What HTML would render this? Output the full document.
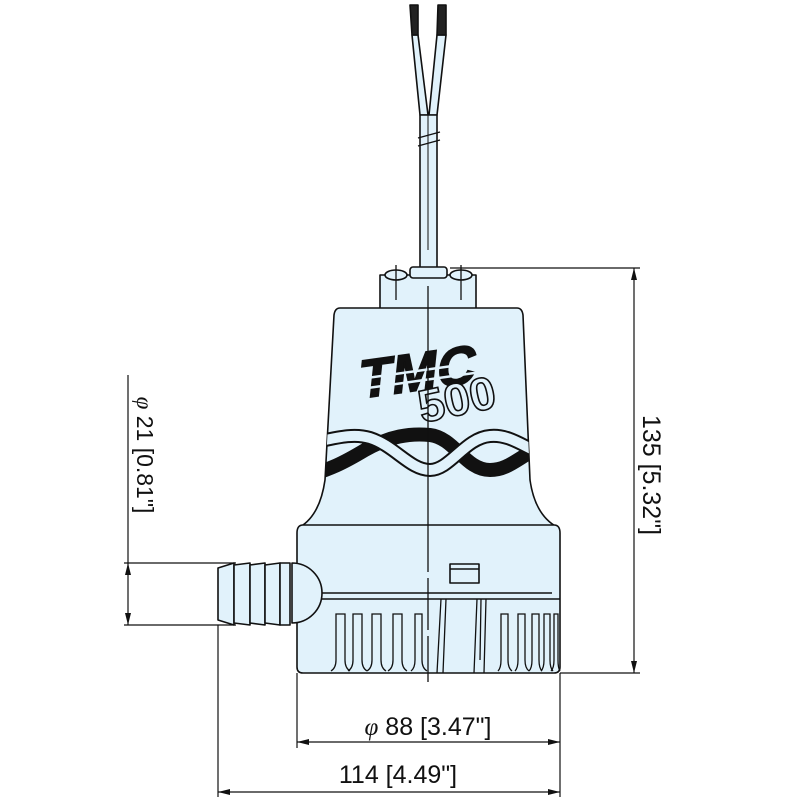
<!DOCTYPE html>
<html><head><meta charset="utf-8"><style>
html,body{margin:0;padding:0;background:#fff;}
svg{display:block;}
text{font-family:"Liberation Sans",Arial,sans-serif;fill:#111;}
</style></head><body>
<svg width="800" height="800" viewBox="0 0 800 800" xmlns="http://www.w3.org/2000/svg">
<defs>
<marker id="a" viewBox="0 0 12 6" refX="12" refY="3" markerWidth="12" markerHeight="6" orient="auto-start-reverse" markerUnits="userSpaceOnUse"><path d="M0,0 L12,3 L0,6 Z" fill="#111"/></marker>
<clipPath id="bc"><path d="M340,308 L517,308 Q522,308 523,315 L530,480 Q535,515 557,527 L300,527 Q320,515 325,480 L334,315 Q335,308 340,308 Z"/></clipPath>
</defs>
<g stroke="#111" stroke-width="1.6" fill="#e1f2fb" stroke-linejoin="round">
<path d="M412,35 L420,115 L428,115 L418,35 Z"/>
<path d="M437,35 L429,115 L437,115 L446,35 Z"/>
<path d="M410,5 L418,5 L418,35 L412,35 Z" fill="#222"/>
<path d="M438,5 L446,5 L446,35 L437,35 Z" fill="#222"/>
<rect x="420" y="115" width="17" height="153"/>
<path d="M418,138 L440,132 M418,146 L440,140" stroke-width="1.4"/>
<line x1="428" y1="115" x2="428" y2="250" stroke-width="1"/>
<rect x="380" y="275" width="96" height="34"/>
<rect x="410" y="267" width="37" height="11" rx="3"/>
<ellipse cx="396" cy="275" rx="11" ry="5"/>
<ellipse cx="461" cy="275" rx="11" ry="5"/>
<path d="M340,308 L517,308 Q522,308 523,315 L530,480 Q535,515 557,527 L300,527 Q320,515 325,480 L334,315 Q335,308 340,308 Z"/>
<path d="M303,525 L554,525 Q560,525 560,533 L560,667 Q560,673 554,673 L303,673 Q297,673 297,667 L297,533 Q297,525 303,525 Z"/>
<line x1="318" y1="593" x2="552" y2="593"/>
<line x1="318" y1="599" x2="560" y2="599"/>
<rect x="450" y="564" width="29" height="19" fill="none"/>
<line x1="450" y1="569" x2="479" y2="569"/>
<path d="M292,563 A30,30 0 0 1 292,623 Z"/>
<path d="M218,568 L234,563 L234,625 L218,620 Z"/>
<path d="M234,565 L250,563 L250,625 L234,623 Z"/>
<path d="M250,565 L265,563 L265,625 L250,623 Z"/>
<path d="M265,565 L280,563 L280,625 L265,623 Z"/>
<rect x="280" y="563" width="10" height="62"/>
</g>
<g stroke="#111" stroke-width="1.3" fill="none">
<path d="M331,671 Q336,668 336,660 L336,614 L345,614 L345,660 Q345,668 350,671"/>
<path d="M348,671 Q353,668 353,660 L353,614 L362,614 L362,660 Q362,668 367,671"/>
<path d="M367,671 Q372,668 372,660 L372,614 L381,614 L381,660 Q381,668 386,671"/>
<path d="M388,671 Q393,668 393,660 L393,614 L402,614 L402,660 Q402,668 407,671"/>
<path d="M411,671 Q415,668 415,660 L415,614 L422,614 L422,660 Q422,668 427,671"/>
<path d="M437,673 L441,599 M446,599 L443,673"/>
<path d="M474,673 L477,599 M486,599 L484,673 M481,599 L480,660"/>
<path d="M498,671 Q501,668 501,660 L501,614 L508,614 L508,660 Q508,668 512,671"/>
<path d="M515,671 Q518,668 518,660 L518,614 L525,614 L525,660 Q525,668 529,671"/>
<path d="M529,671 Q532,668 532,660 L532,614 L539,614 L539,660 Q539,668 542,671"/>
<path d="M541,671 Q544,668 544,660 L544,614 L550,614 L550,660 Q550,668 553,671"/>
<path d="M551,671 Q554,668 554,660 L554,614 L558,614 L558,660 Q558,668 560,671"/>
</g>
<g transform="translate(350,400) rotate(-8) skewX(-14)">
<text x="8" y="0" font-size="54" font-weight="bold" textLength="118" lengthAdjust="spacingAndGlyphs" style="fill:#111;stroke:#111;stroke-width:1.5">TMC</text>
</g>
<g stroke="#e1f2fb" stroke-width="2.5" transform="rotate(-8 410 380)"><line x1="345" y1="372" x2="480" y2="372"/><line x1="345" y1="382" x2="480" y2="382"/></g>
<text x="0" y="0" font-size="46" font-weight="bold" font-family="Liberation Serif" transform="translate(422,423) rotate(-12)" style="fill:#e1f2fb;stroke:#111;stroke-width:1.6" textLength="78" lengthAdjust="spacingAndGlyphs">500</text>
<g clip-path="url(#bc)" fill="none">
<path d="M300,478 C330,470 345,462 365,450 C390,436 410,433 430,435 C455,438 465,470 490,470 C510,470 520,455 545,445" stroke="#111" stroke-width="14"/>
<path d="M300,445 C330,440 350,432 370,438 C395,446 410,470 430,470 C450,470 465,438 490,436 C510,434 525,448 545,455" stroke="#111" stroke-width="14"/>
<path d="M300,445 C330,440 350,432 370,438 C395,446 410,470 430,470 C450,470 465,438 490,436 C510,434 525,448 545,455" stroke="#e1f2fb" stroke-width="10"/>
</g>
<g stroke="#111" stroke-width="1.3">
<line x1="428" y1="286" x2="428" y2="572"/>
<line x1="428" y1="578" x2="428" y2="630"/>
<line x1="428" y1="636" x2="428" y2="682"/>
<line x1="396" y1="265" x2="396" y2="300"/><line x1="461" y1="265" x2="461" y2="300"/>
</g>
<g stroke="#111" stroke-width="1.2" fill="none">
<line x1="450" y1="268" x2="640" y2="268"/>
<line x1="560" y1="673" x2="640" y2="673"/>
<line x1="634" y1="268" x2="634" y2="673" marker-start="url(#a)" marker-end="url(#a)"/>
<line x1="297" y1="673" x2="297" y2="748"/>
<line x1="560" y1="673" x2="560" y2="797"/>
<line x1="297" y1="742" x2="560" y2="742" marker-start="url(#a)" marker-end="url(#a)"/>
<line x1="218" y1="625" x2="218" y2="797"/>
<line x1="218" y1="792" x2="560" y2="792" marker-start="url(#a)" marker-end="url(#a)"/>
<line x1="124" y1="563" x2="236" y2="563"/>
<line x1="124" y1="625" x2="236" y2="625"/>
<line x1="128" y1="375" x2="128" y2="563"/>
<line x1="128" y1="563" x2="128" y2="625" marker-start="url(#a)" marker-end="url(#a)"/>
</g>
<text x="428" y="735" font-size="25" text-anchor="middle"><tspan font-style="italic" font-family="Liberation Serif">φ</tspan> 88 [3.47"]</text>
<text x="398" y="783" font-size="25" text-anchor="middle">114 [4.49"]</text>
<text transform="translate(643,475) rotate(90)" font-size="25" text-anchor="middle">135 [5.32"]</text>
<text transform="translate(137,455) rotate(90)" font-size="23" text-anchor="middle"><tspan font-style="italic" font-family="Liberation Serif">φ</tspan> 21 [0.81"]</text>
</svg>
</body></html>
